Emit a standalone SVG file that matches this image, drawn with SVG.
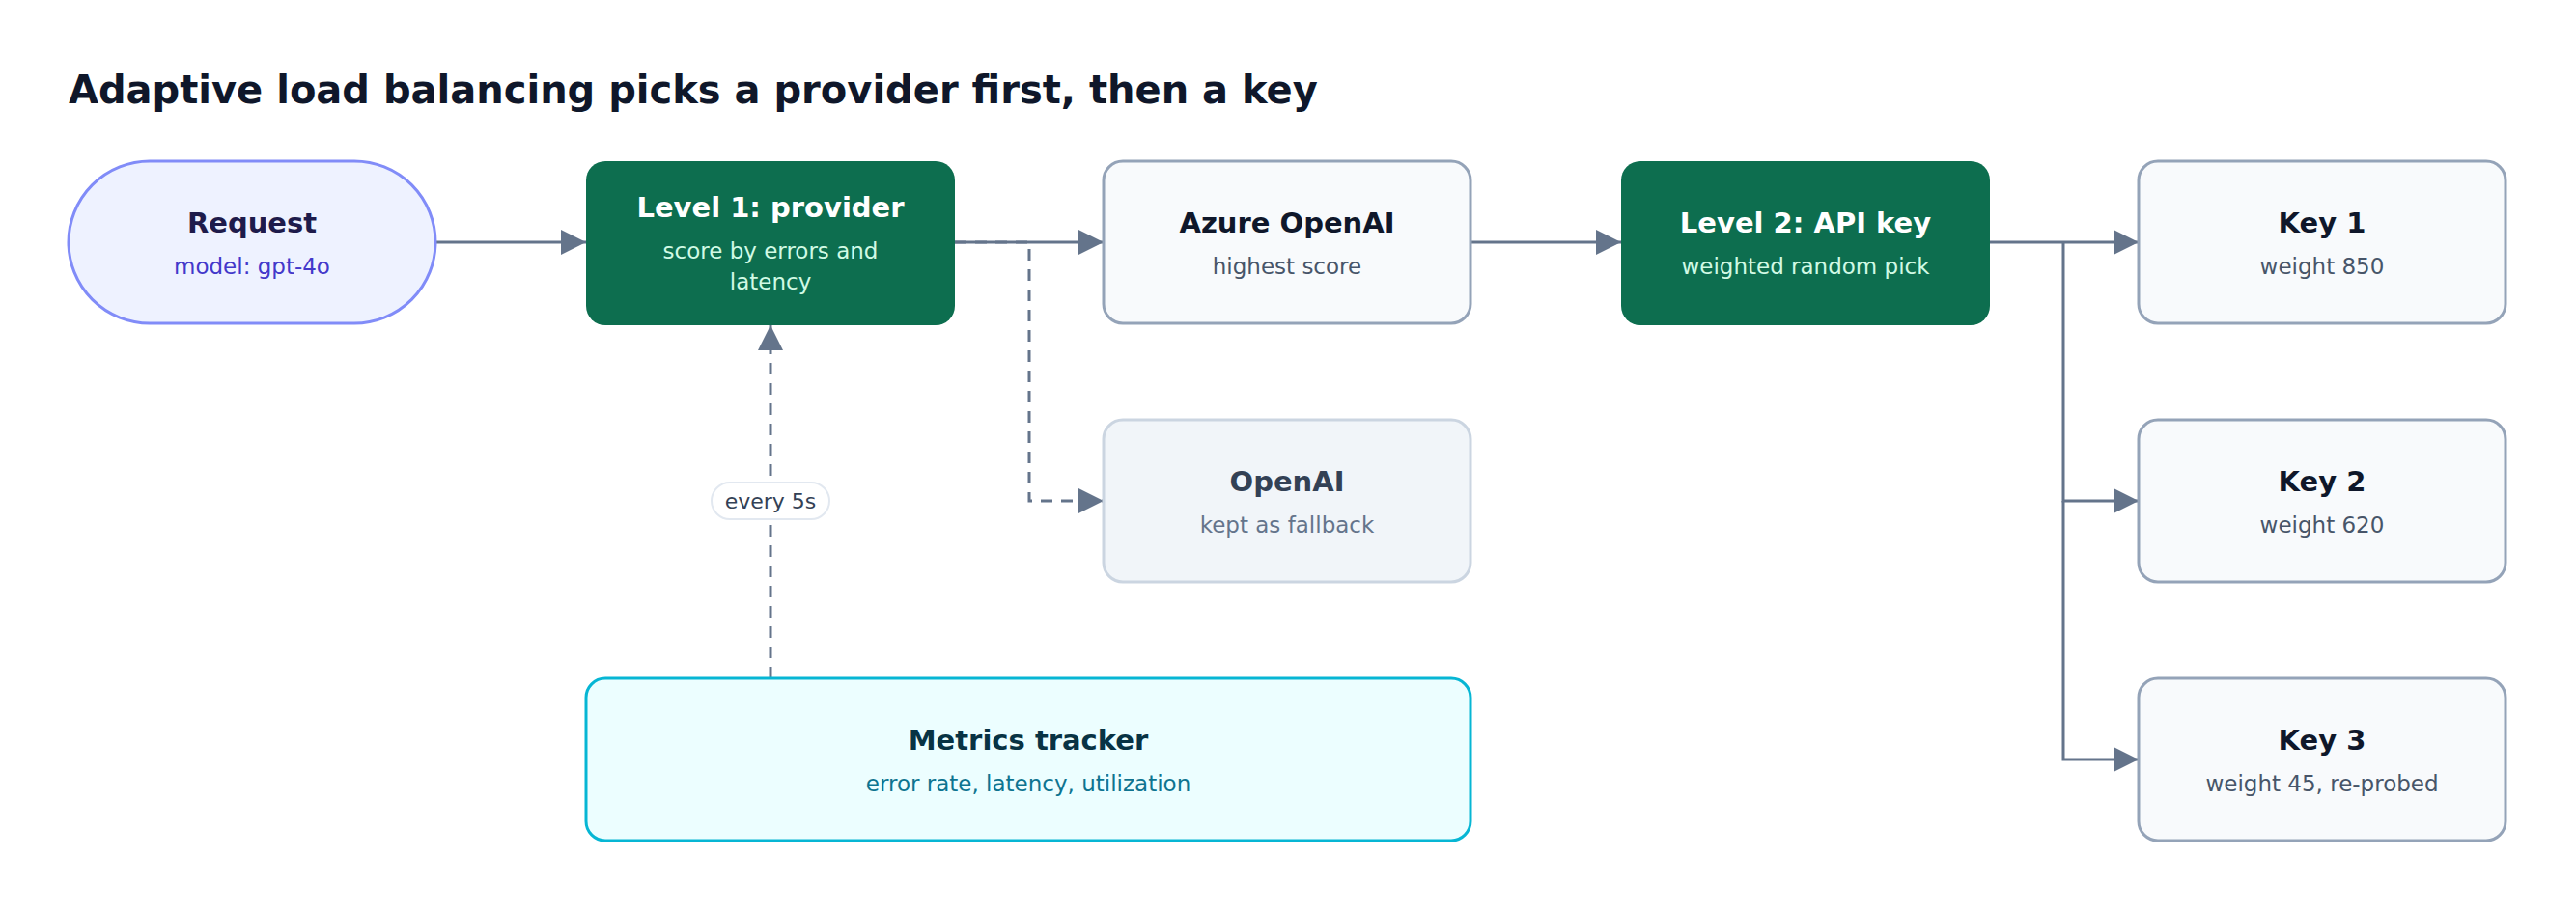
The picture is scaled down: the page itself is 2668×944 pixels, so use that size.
<svg xmlns="http://www.w3.org/2000/svg" width="2668" height="944" viewBox="0 0 2668 944">
<style>
text{font-family:"DejaVu Sans","Noto Sans",sans-serif;text-anchor:middle}
.t{font-size:29px;font-weight:bold}
.s{font-size:23px}
.e{stroke:#64748b;stroke-width:3;fill:none}
.d{stroke-dasharray:12 9}
.n{fill:#f8fafc;stroke:#94a3b8;stroke-width:3}
.g{fill:#0d6e4f}
</style>
<defs><marker id="a" viewBox="0 0 10 10" refX="10" refY="5" markerWidth="8" markerHeight="8" markerUnits="userSpaceOnUse" orient="auto" style="overflow:visible"><path d="M0,0L10,5L0,10z" fill="#64748b" transform="scale(2.6) translate(-6.2,-3.1)"/></marker>
<marker id="m" viewBox="0 0 26 26" refX="26" refY="13" markerWidth="26" markerHeight="26" markerUnits="userSpaceOnUse" orient="auto"><path d="M0,0L26,13L0,26z" fill="#64748b"/></marker></defs>
<rect width="2668" height="944" fill="#fff"/>
<text x="71" y="107" style="text-anchor:start;font-size:40px;font-weight:bold" fill="#0f172a">Adaptive load balancing picks a provider first, then a key</text>
<g id="connectors">
<path class="e" d="M451,251H607" marker-end="url(#m)"/>
<path class="e" d="M989,251H1143" marker-end="url(#m)"/>
<path class="e d" d="M989,251H1066V519H1143" marker-end="url(#m)"/>
<path class="e" d="M1523,251H1679" marker-end="url(#m)"/>
<path class="e" d="M2061,251H2215" marker-end="url(#m)"/>
<path class="e" d="M2137,251V519H2215" marker-end="url(#m)"/>
<path class="e" d="M2137,519V787H2215" marker-end="url(#m)"/>
<path class="e d" d="M798,703V337" marker-end="url(#m)"/>
<rect x="737" y="500" width="122" height="38" rx="19" fill="#fff" stroke="#e2e8f0" stroke-width="2"/>
<text x="798" y="527" style="font-size:22px" fill="#334155">every 5s</text>
</g>
<g id="request"><rect x="71" y="167" width="380" height="168" rx="84" fill="#eef2ff" stroke="#818cf8" stroke-width="3"/>
<text class="t" x="261" y="241" fill="#1e1b4b">Request</text><text class="s" x="261" y="284" fill="#4338ca">model: gpt-4o</text></g>
<g id="level1"><rect class="g" x="607" y="167" width="382" height="170" rx="20"/>
<text class="t" x="798" y="225" fill="#fff">Level 1: provider</text><text class="s" x="798" y="268" fill="#d1fae5">score by errors and</text><text class="s" x="798" y="300" fill="#d1fae5">latency</text></g>
<g id="azure"><rect class="n" x="1143" y="167" width="380" height="168" rx="20"/>
<text class="t" x="1333" y="241" fill="#0f172a">Azure OpenAI</text><text class="s" x="1333" y="284" fill="#475569">highest score</text></g>
<g id="openai"><rect x="1143" y="435" width="380" height="168" rx="20" fill="#f1f5f9" stroke="#cbd5e1" stroke-width="3"/>
<text class="t" x="1333" y="509" fill="#334155">OpenAI</text><text class="s" x="1333" y="552" fill="#64748b">kept as fallback</text></g>
<g id="level2"><rect class="g" x="1679" y="167" width="382" height="170" rx="20"/>
<text class="t" x="1870" y="241" fill="#fff">Level 2: API key</text><text class="s" x="1870" y="284" fill="#d1fae5">weighted random pick</text></g>
<g id="key1"><rect class="n" x="2215" y="167" width="380" height="168" rx="20"/>
<text class="t" x="2405" y="241" fill="#0f172a">Key 1</text><text class="s" x="2405" y="284" fill="#475569">weight 850</text></g>
<g id="key2"><rect class="n" x="2215" y="435" width="380" height="168" rx="20"/>
<text class="t" x="2405" y="509" fill="#0f172a">Key 2</text><text class="s" x="2405" y="552" fill="#475569">weight 620</text></g>
<g id="key3"><rect class="n" x="2215" y="703" width="380" height="168" rx="20"/>
<text class="t" x="2405" y="777" fill="#0f172a">Key 3</text><text class="s" x="2405" y="820" fill="#475569">weight 45, re-probed</text></g>
<g id="metrics"><rect x="607" y="703" width="916" height="168" rx="20" fill="#ecfeff" stroke="#06b6d4" stroke-width="3"/>
<text class="t" x="1065" y="777" fill="#083344">Metrics tracker</text><text class="s" x="1065" y="820" fill="#0e7490">error rate, latency, utilization</text></g>
</svg>
